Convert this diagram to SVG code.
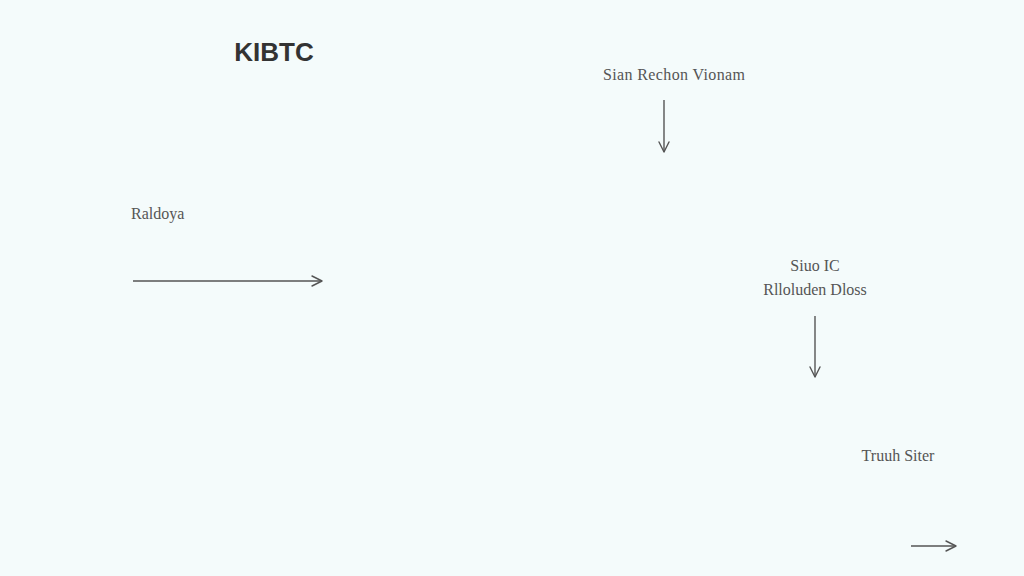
<svg xmlns="http://www.w3.org/2000/svg" width="1024" height="576" viewBox="0 0 1024 576">
<style>
.lbl{font-family:"Liberation Serif","DejaVu Serif",serif;font-size:16px;fill:#555;}
.title{font-family:"Liberation Sans",Arial,sans-serif;font-size:26px;font-weight:bold;fill:#333;}
.conn{stroke:#555;stroke-width:1.4;fill:none;}
.head{stroke:#555;stroke-width:1.4;fill:none;stroke-linecap:round;stroke-linejoin:round;}
</style>
<rect width="1024" height="576" fill="#f4fbfb"/>
<g id="title"><text class="title" x="274" y="61" text-anchor="middle">KIBTC</text></g>
<g id="node-sian"><text class="lbl" x="674" y="80" text-anchor="middle" textLength="142">Sian Rechon Vionam</text></g>
<g id="node-raldoya"><text class="lbl" x="131" y="219">Raldoya</text></g>
<g id="node-siuo"><text class="lbl" x="815" y="271" text-anchor="middle">Siuo IC</text><text class="lbl" x="815" y="295" text-anchor="middle">Rlloluden Dloss</text></g>
<g id="node-truuh"><text class="lbl" x="898" y="461" text-anchor="middle">Truuh Siter</text></g>
<g id="connectors">
<line class="conn" x1="664" y1="100" x2="664" y2="152"/><polyline class="head" points="659,142 664,152 669,142"/>
<line class="conn" x1="133" y1="281" x2="322" y2="281"/><polyline class="head" points="312,276 322,281 312,286"/>
<line class="conn" x1="815" y1="316" x2="815" y2="377"/><polyline class="head" points="810,367 815,377 820,367"/>
<line class="conn" x1="911" y1="546" x2="956" y2="546"/><polyline class="head" points="946,541 956,546 946,551"/>
</g>
</svg>
